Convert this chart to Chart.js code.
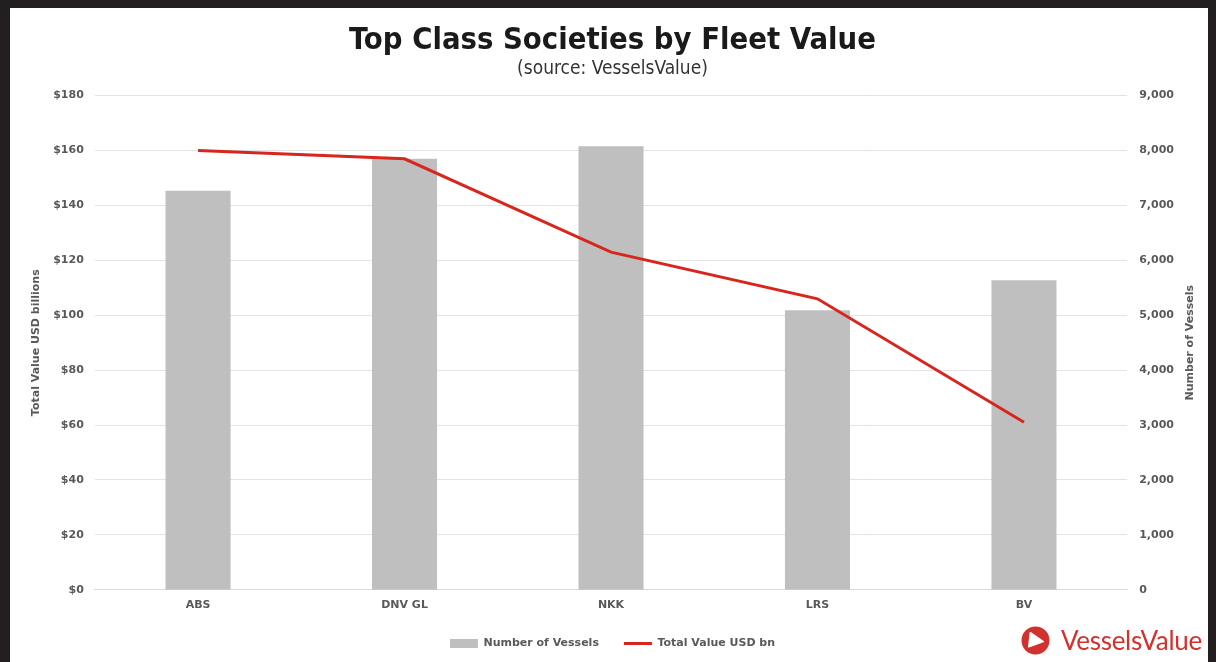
<!DOCTYPE html>
<html>
<head>
<meta charset="utf-8">
<script src="https://cdn.jsdelivr.net/npm/chart.js@4.4.1/dist/chart.umd.min.js"></script>
<style>
  body { margin: 0; background: #231f20; width: 1216px; height: 662px; overflow: hidden; }
  #frame { position: absolute; left: 10px; top: 8px; width: 1198px; height: 654px; background: #fff; }
  #chart { position: absolute; left: 0; top: 0; }
  #logo { position: absolute; left: 1011px; top: 617px; height: 30px; display: flex; align-items: center;
          font-family: Lato, "Open Sans", sans-serif; font-size: 26px; color: #d2322d; letter-spacing: -0.3px; }
  #logo svg { margin-right: 11px; }
</style>
</head>
<body>
<div id="frame">
  <canvas id="chart" width="1198" height="654"></canvas>
  <div id="logo">
    <svg width="29" height="29" viewBox="0 0 28 28">
      <circle cx="14" cy="14" r="13.5" fill="#d2322d"/>
      <path d="M9 6.5 L21.5 15 L7.5 20 Z" fill="#fff" stroke="#fff" stroke-width="1.5" stroke-linejoin="round"/>
    </svg>
    <span>VesselsValue</span>
  </div>
</div>
<script>
// Top class societies by fleet value
const categories = ['ABS', 'DNV GL', 'NKK', 'LRS', 'BV'];
const vesselCounts = [7270, 7850, 8080, 5090, 5640];
const totalValueBn = [160, 157, 123, 106, 61];

const tickFont = { family: 'DejaVu Sans', size: 11, weight: 'bold' };
const textGrey = '#595959';

// right axis title reads bottom-to-top, like the left one
const rightTitle = {
    id: 'rightTitle',
    afterDraw(chart) {
        const ctx = chart.ctx;
        const area = chart.chartArea;
        ctx.save();
        ctx.translate(1180, (area.top + area.bottom) / 2);
        ctx.rotate(-Math.PI / 2);
        ctx.font = 'bold 11px "DejaVu Sans"';
        ctx.fillStyle = textGrey;
        ctx.textAlign = 'center';
        ctx.textBaseline = 'middle';
        ctx.fillText('Number of Vessels', 0, 0);
        ctx.restore();
    }
};

const ctx = document.getElementById('chart').getContext('2d');
const fleetChart = new Chart(ctx, {
    type: 'bar',
    data: {
        labels: categories,
        datasets: [{
            type: 'bar',
            label: 'Number of Vessels',
            data: vesselCounts,
            backgroundColor: '#bfbfbf',
            yAxisID: 'yVessels',
            categoryPercentage: 1,
            barPercentage: 0.315,
            pointStyle: 'rect',
            order: 2
        }, {
            type: 'line',
            label: 'Total Value USD bn',
            data: totalValueBn,
            borderColor: '#d7261e',
            backgroundColor: '#d7261e',
            borderWidth: 3,
            pointRadius: 0,
            tension: 0,
            yAxisID: 'yValue',
            pointStyle: 'line',
            order: 1
        }]
    },
    options: {
        responsive: false,
        animation: false,
        layout: { padding: { left: 29, right: 22, top: 15, bottom: 3 } },
        plugins: {
            title: {
                display: true,
                text: 'Top Class Societies by Fleet Value',
                color: '#1a1a1a',
                font: { family: 'DejaVu Sans Condensed', size: 30.7, weight: 'bold' },
                padding: { top: 0, bottom: -2 }
            },
            subtitle: {
                display: true,
                text: '(source: VesselsValue)',
                color: '#333',
                font: { family: 'DejaVu Sans Condensed', size: 19 },
                padding: { top: 0, bottom: 15 }
            },
            legend: {
                position: 'bottom',
                labels: {
                    usePointStyle: true,
                    pointStyleWidth: 28,
                    boxHeight: 9,
                    color: textGrey,
                    font: tickFont,
                    padding: 25,
                    sort: (a, b) => a.datasetIndex - b.datasetIndex
                }
            },
            tooltip: { enabled: false }
        },
        scales: {
            x: {
                grid: { display: false },
                border: { color: '#d9d9d9' },
                ticks: { color: textGrey, font: tickFont, padding: 1 }
            },
            yValue: {
                position: 'left',
                min: 0,
                max: 180,
                ticks: {
                    stepSize: 20,
                    color: textGrey,
                    font: tickFont,
                    padding: 11,
                    callback: v => '$' + v
                },
                grid: { color: '#e3e3e3', drawTicks: false },
                border: { display: false },
                title: {
                    display: true,
                    text: 'Total Value USD billions',
                    color: textGrey,
                    font: tickFont,
                    padding: { top: -9, bottom: -1 }
                }
            },
            yVessels: {
                position: 'right',
                min: 0,
                max: 9000,
                ticks: {
                    stepSize: 1000,
                    color: textGrey,
                    font: tickFont,
                    padding: 12,
                    callback: v => v.toLocaleString('en-US')
                },
                grid: { display: false, drawTicks: false },
                border: { display: false }
            }
        }
    },
    plugins: [rightTitle]
});
</script>
</body>
</html>
